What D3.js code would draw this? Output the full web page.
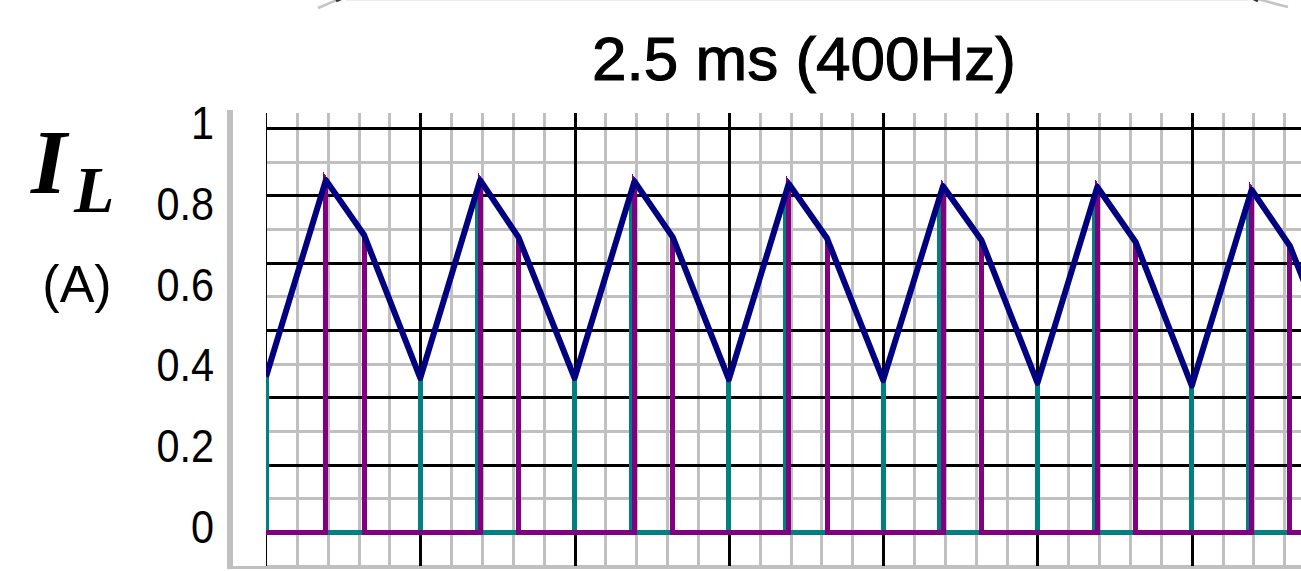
<!DOCTYPE html>
<html>
<head>
<meta charset="utf-8">
<script src="https://cdn.jsdelivr.net/npm/d3@7"></script>
<style>
  html, body { margin: 0; padding: 0; background: #fff; overflow: hidden; }
  svg { display: block; }
</style>
</head>
<body>
<svg id="chart" width="1301" height="571"></svg>
<script>
// Inductor current I_L (A): breakpoints of the piecewise-linear waveform (time in ms)
const timeMs = [0, 0.97, 1.59, 2.5, 3.47, 4.09, 5, 5.97, 6.59, 7.5, 8.47, 9.09,
                10, 10.97, 11.59, 12.5, 13.47, 14.09, 15, 15.97, 16.59, 17.5];
const inductorCurrent = [0.384, 0.871, 0.735, 0.381, 0.871, 0.730, 0.381, 0.868, 0.730,
                         0.378, 0.862, 0.727, 0.376, 0.856, 0.723, 0.369, 0.854, 0.718,
                         0.362, 0.847, 0.708, 0.356];

// Interval during which the teal current follows I_L (switch conducting)
const tealOnMs  = [0, 2.5, 5, 7.5, 10, 12.5, 15];
const tealOffMs = [0.97, 3.42, 5.92, 8.42, 10.92, 13.42, 15.92];
// Interval during which the purple current follows I_L
const purpleOnMs  = [0.97, 3.47, 5.97, 8.47, 10.97, 13.47, 15.97];
const purpleOffMs = [1.59, 4.09, 6.59, 9.09, 11.59, 14.09, 16.59];

const yTickValues = [0, 0.2, 0.4, 0.6, 0.8, 1];
const yTickLabels = ["0", "0.2", "0.4", "0.6", "0.8", "1"];
const periodLabel = "2.5 ms (400Hz)";
const unitLabel = "(A)";

const W = 1301, H = 571;
const plot = { left: 266, right: 1301, top: 113, bottom: 566 };

const x = d3.scaleLinear().domain([0, 16.77]).range([266, 1301]);
const y = d3.scaleLinear().domain([0, 1]).range([532, 128]);
const iAt = d3.scaleLinear().domain(timeMs).range(inductorCurrent);

const svg = d3.select("#chart");
svg.append("rect").attr("width", W).attr("height", H).attr("fill", "#fff");

// period bracket (its ends just reach the top edge)
svg.append("line")
  .attr("x1", 346).attr("x2", 1249).attr("y1", 0.5).attr("y2", 0.5)
  .attr("stroke", "#ececec").attr("stroke-width", 1);
svg.append("path")
  .attr("d", "M318,8 Q330,3 344,-3 M1251,-3 Q1268,2 1288,7")
  .attr("fill", "none").attr("stroke", "#c4c4c4").attr("stroke-width", 2.5);
svg.append("path")
  .attr("d", "M336,1 Q340,-1 345,-3 M1250,-3 Q1254,-1 1258,1")
  .attr("fill", "none").attr("stroke", "#333").attr("stroke-width", 3);

// period label
svg.append("text")
  .attr("x", 804).attr("y", 80)
  .attr("text-anchor", "middle")
  .attr("font-family", "'Liberation Sans', Arial, sans-serif")
  .attr("font-size", 62)
  .attr("fill", "#000")
  .attr("stroke", "#000").attr("stroke-width", 1.1)
  .text(periodLabel);

// axis title I_L (A)
const title = svg.append("g").attr("font-family", "'Liberation Serif', 'Times New Roman', serif")
  .attr("font-weight", "bold").attr("font-style", "italic").attr("fill", "#000");
title.append("text").attr("x", 31).attr("y", 193).attr("font-size", 92).text("I");
title.append("text").attr("x", 74).attr("y", 212).attr("font-size", 66).text("L");
svg.append("text")
  .attr("x", 77).attr("y", 302)
  .attr("text-anchor", "middle")
  .attr("font-family", "'Liberation Sans', Arial, sans-serif")
  .attr("font-size", 52)
  .attr("fill", "#000")
  .text(unitLabel);

// y tick labels (slightly condensed)
svg.append("g").selectAll("text")
  .data(yTickValues)
  .join("text")
  .attr("transform", d => `translate(214,${y(d) + 11}) scale(0.9,1)`)
  .attr("text-anchor", "end")
  .attr("font-family", "'Liberation Sans', Arial, sans-serif")
  .attr("font-size", 46)
  .attr("fill", "#000")
  .text((d, i) => yTickLabels[i]);

// sunken frame
svg.append("rect").attr("x", 227).attr("y", 110).attr("width", 6).attr("height", 459).attr("fill", "#c0c0c0");
svg.append("rect").attr("x", 227).attr("y", 566).attr("width", W - 227).attr("height", 3).attr("fill", "#c0c0c0");

// plot area
svg.append("clipPath").attr("id", "plotClip")
  .append("rect")
  .attr("x", plot.left).attr("y", plot.top)
  .attr("width", plot.right - plot.left).attr("height", plot.bottom - plot.top);
const g = svg.append("g").attr("clip-path", "url(#plotClip)");

// grid: minor every 0.5 ms / 1/12 A, major every 2.5 ms / 1/6 A
const vTimes = d3.range(0, 34).map(i => i * 0.5);
const hSteps = d3.range(-1, 13);
const snap = v => Math.round(v) + 0.5;

const grid = g.append("g").attr("shape-rendering", "crispEdges");
grid.append("g").selectAll("line")
  .data(vTimes.filter((t, i) => i % 5 !== 0))
  .join("line")
  .attr("x1", d => snap(x(d))).attr("x2", d => snap(x(d)))
  .attr("y1", plot.top).attr("y2", plot.bottom)
  .attr("stroke", "#c0c0c0").attr("stroke-width", 3);
grid.append("g").selectAll("line")
  .data(hSteps.filter(k => k % 2 !== 0))
  .join("line")
  .attr("x1", plot.left).attr("x2", plot.right)
  .attr("y1", d => snap(y(d / 12))).attr("y2", d => snap(y(d / 12)))
  .attr("stroke", "#c0c0c0").attr("stroke-width", 3);
grid.append("g").selectAll("line")
  .data(hSteps.filter(k => k % 2 === 0))
  .join("line")
  .attr("x1", plot.left).attr("x2", plot.right)
  .attr("y1", d => snap(y(d / 12))).attr("y2", d => snap(y(d / 12)))
  .attr("stroke", "#000").attr("stroke-width", 3);
grid.append("g").selectAll("line")
  .data(vTimes.filter((t, i) => i % 5 === 0 && i > 0))
  .join("line")
  .attr("x1", d => snap(x(d))).attr("x2", d => snap(x(d)))
  .attr("y1", plot.top).attr("y2", plot.bottom)
  .attr("stroke", "#000").attr("stroke-width", 3);
grid.append("line")
  .attr("x1", plot.left + 0.5).attr("x2", plot.left + 0.5)
  .attr("y1", plot.top).attr("y2", plot.bottom)
  .attr("stroke", "#000").attr("stroke-width", 1);

// gated current: follows I_L inside [on, off], zero elsewhere
function gated(onList, offList) {
  const pts = [[0, 0]];
  onList.forEach((on, k) => {
    const off = offList[k];
    pts.push([on, 0], [on, iAt(on)]);
    timeMs.forEach(t => { if (t > on && t < off) pts.push([t, iAt(t)]); });
    pts.push([off, iAt(off)], [off, 0]);
  });
  pts.push([17.5, 0]);
  return pts;
}

const line = d3.line().x(d => x(d[0])).y(d => y(d[1]));

g.append("path")
  .attr("d", line(gated(tealOnMs, tealOffMs)))
  .attr("fill", "none").attr("stroke", "#008080").attr("stroke-width", 5)
  .attr("shape-rendering", "crispEdges");

g.append("path")
  .attr("d", line(gated(purpleOnMs, purpleOffMs)))
  .attr("fill", "none").attr("stroke", "#800080").attr("stroke-width", 5)
  .attr("shape-rendering", "crispEdges");

g.append("path")
  .attr("d", line(timeMs.map((t, i) => [t, inductorCurrent[i]])))
  .attr("fill", "none").attr("stroke", "#000080").attr("stroke-width", 6)
  .attr("stroke-linejoin", "round");
</script>
</body>
</html>
